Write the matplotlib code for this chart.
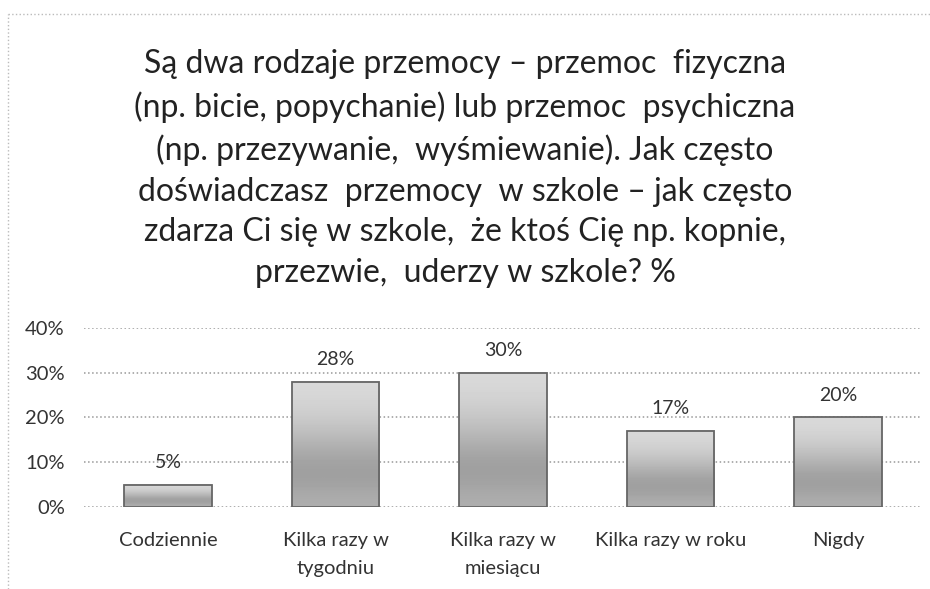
import numpy as np
import matplotlib
matplotlib.use('Agg')
import matplotlib.pyplot as plt
from matplotlib.lines import Line2D

# ─── Daten ─────────────────────────────────────────────
categories = ['Codziennie', 'Kilka razy w\ntygodniu', 'Kilka razy w\nmiesiącu',
              'Kilka razy w roku', 'Nigdy']
values = [5, 28, 30, 17, 20]
yticks = [0, 10, 20, 30, 40]
title = ('Są dwa rodzaje przemocy – przemoc  fizyczna\n'
         '(np. bicie, popychanie) lub przemoc  psychiczna\n'
         '(np. przezywanie,  wyśmiewanie). Jak często\n'
         'doświadczasz  przemocy  w szkole – jak często\n'
         'zdarza Ci się w szkole,  że ktoś Cię np. kopnie,\n'
         'przezwie,  uderzy w szkole? %')

plt.rcParams['font.family'] = ['Lato', 'DejaVu Sans']
txt_col = '#333333'

fig = plt.figure(figsize=(9.3, 5.89), dpi=100)
fig.patch.set_facecolor('white')
# Rahmen (oben + links, gepunktet)
fig.add_artist(Line2D([0.009, 1.0], [0.976, 0.976], transform=fig.transFigure,
                      color='#bbbbbb', linewidth=1, linestyle=':'))
fig.add_artist(Line2D([0.009, 0.009], [0.0, 0.976], transform=fig.transFigure,
                      color='#bbbbbb', linewidth=1, linestyle=':'))

fig.text(0.5, 0.916, title, ha='center', va='top', fontsize=23,
         color='#222222', linespacing=1.45)

ax = fig.add_axes([0.0906, 0.1392, 0.9005, 0.304])
x = np.arange(len(categories))
bars = ax.bar(x, values, width=0.525, color='none', edgecolor='#666666',
              linewidth=1.3, zorder=3)

# Verlauf in den Balken
grad = np.array([0.85, 0.82, 0.77, 0.70, 0.63, 0.62, 0.68]).reshape(-1, 1)
for b in bars:
    x0, y0 = b.get_x(), b.get_y()
    ax.imshow(grad, cmap='gray', vmin=0, vmax=1, aspect='auto',
              extent=[x0, x0 + b.get_width(), y0, y0 + b.get_height()],
              origin='upper', zorder=2, interpolation='bicubic')

for xi, v in zip(x, values):
    ax.text(xi, v + 5, f'{v}%', ha='center', va='center', fontsize=14,
            color=txt_col)

ax.set_xlim(-0.5, len(categories) - 0.5)
ax.set_ylim(0, 40)
ax.set_yticks(yticks)
ax.set_yticklabels([f'{t}%' for t in yticks], fontsize=14.5, color=txt_col)
ax.set_xticks(x)
ax.set_xticklabels(categories, fontsize=14.5, color=txt_col, linespacing=1.75)
ax.tick_params(length=0)
ax.tick_params(axis='x', pad=18)
ax.tick_params(axis='y', pad=14)
ax.grid(axis='y', color='#999999', linestyle=':', linewidth=1.1, zorder=0)
for s in ax.spines.values():
    s.set_visible(False)

fig.savefig('out.png', dpi=100)
